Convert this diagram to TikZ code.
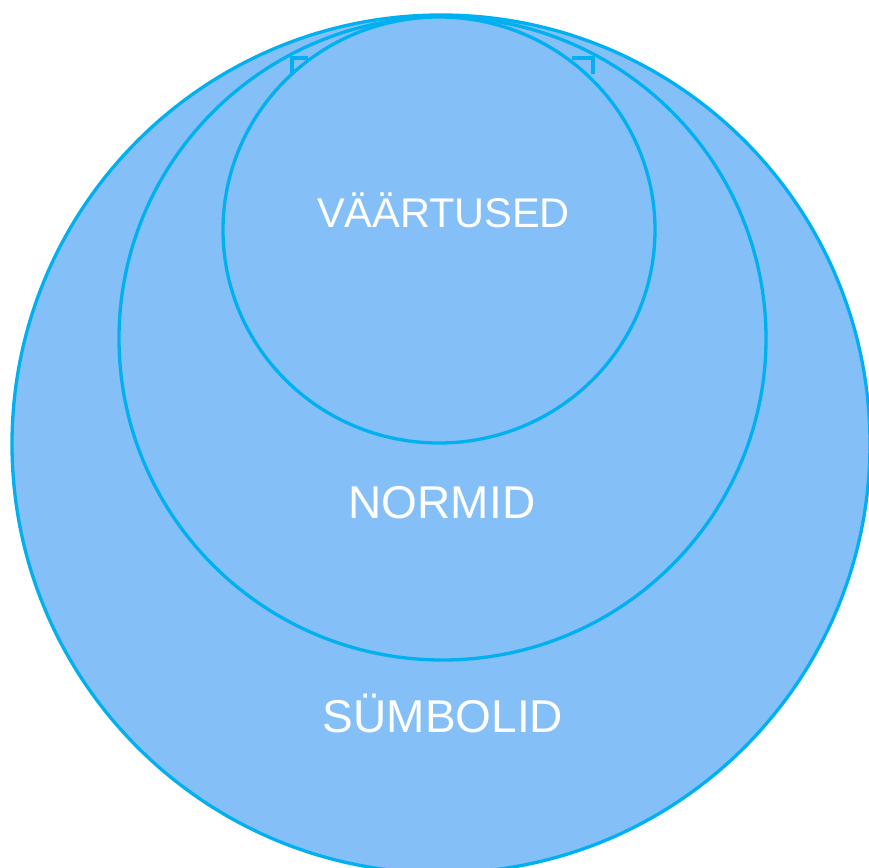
\documentclass[tikz,border=0pt]{standalone}
\usepackage{fontspec}
\setmainfont{Liberation Sans}
\definecolor{fillblue}{HTML}{85BFF8}
\definecolor{lineblue}{HTML}{00B0F0}
\begin{document}
\begin{tikzpicture}[x=1pt,y=-1pt,
  ring/.style={draw=lineblue,fill=fillblue,line width=3.3pt},
  tick/.style={draw=lineblue,line width=3.3pt},
  lbl/.style={text=white,anchor=base,inner sep=0pt}]
\useasboundingbox (0,0) rectangle (869,867);
\begin{scope}
\clip (0,0) rectangle (869,867);
\draw[ring] (441,444) ellipse [x radius=429, y radius=429];
\draw[ring] (442.5,338.5) ellipse [x radius=323.5, y radius=321.5];
\draw[ring] (439,230) ellipse [x radius=216, y radius=213];
\coordinate (l1) at (292,74);
\coordinate (l2) at (292,58);
\coordinate (l3) at (308,58);
\coordinate (r1) at (593,74);
\coordinate (r2) at (593,58);
\coordinate (r3) at (572,58);
\draw[tick] (l1) -- (l2) -- (l3);
\draw[tick] (r1) -- (r2) -- (r3);
\end{scope}
\node[lbl,font=\fontsize{41.5}{41.5}\selectfont] (v) at (443.5,227.5) {VÄÄRTUSED};
\node[lbl,font=\fontsize{46}{46}\selectfont] (n) at (442,518.5) {NORMID};
\node[lbl,font=\fontsize{46}{46}\selectfont] (s) at (443,732.5) {SÜMBOLID};
\end{tikzpicture}
\end{document}
